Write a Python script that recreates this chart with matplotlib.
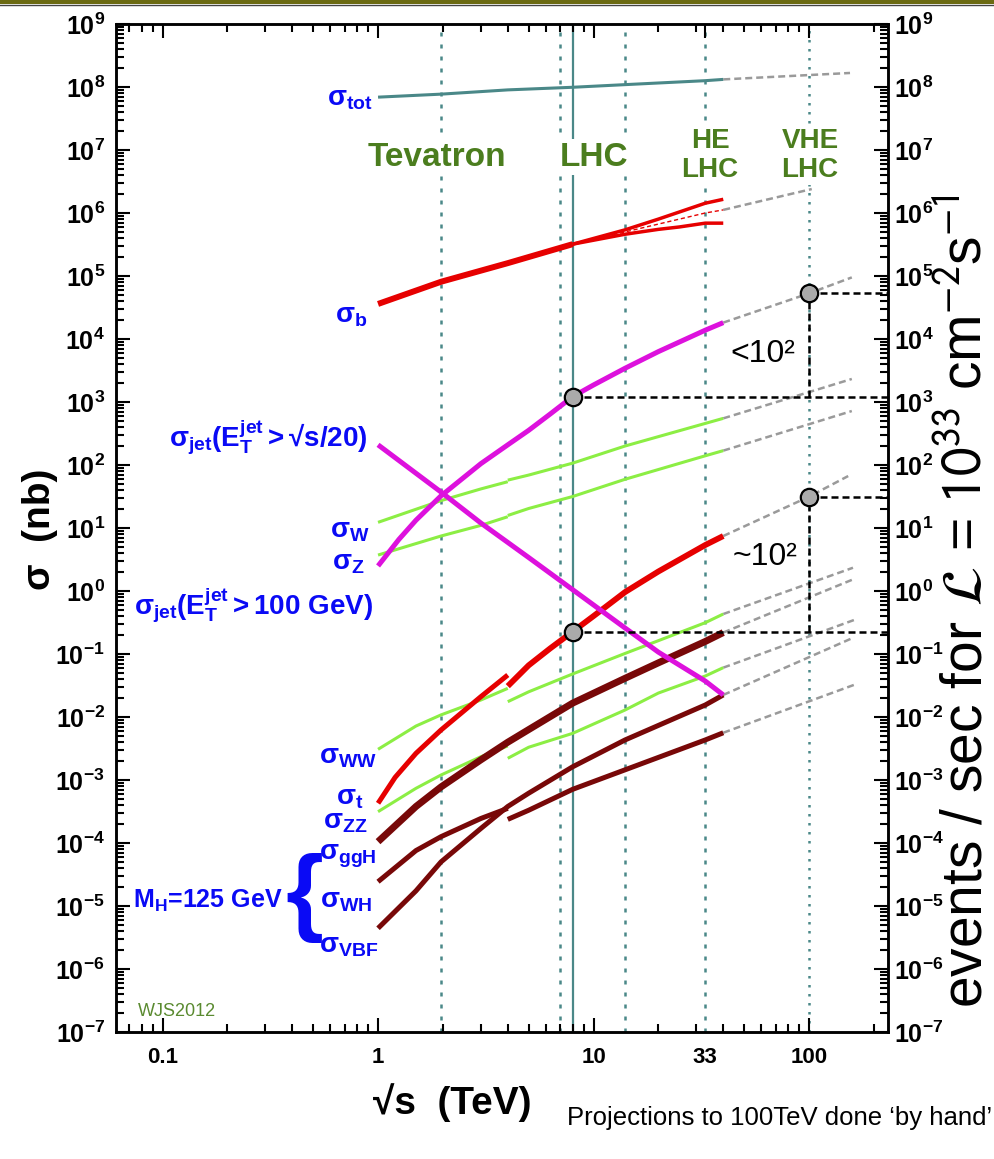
import matplotlib.pyplot as plt
from matplotlib.patches import Rectangle
from matplotlib.ticker import LogLocator, NullFormatter

plt.rcParams['font.family'] = ['Liberation Sans', 'DejaVu Sans']
plt.rcParams['mathtext.fontset'] = 'custom'
plt.rcParams['mathtext.rm'] = 'Liberation Sans'
plt.rcParams['mathtext.it'] = 'Liberation Sans:italic'
plt.rcParams['mathtext.bf'] = 'Liberation Sans:bold'
plt.rcParams['mathtext.fallback'] = 'stixsans'

# sqrt(s) in TeV, cross sections in nb
tot_s = [1, 1.96, 4, 8, 14, 33, 40]
tot_sig = [6.9e7, 7.7e7, 9.0e7, 9.9e7, 1.09e8, 1.26e8, 1.32e8]

b_s = [1, 1.96, 4, 8]
b_sig = [3.6e4, 8.1e4, 1.6e5, 3.2e5]
b_hi_s = [8, 14, 20, 33, 40]
b_hi_sig = [3.2e5, 5.4e5, 8.0e5, 1.43e6, 1.65e6]
b_lo_s = [8, 14, 20, 25, 33, 40]
b_lo_sig = [3.2e5, 4.6e5, 5.5e5, 6.0e5, 6.9e5, 6.9e5]
b_mid_s = [8, 14, 33, 40]
b_mid_sig = [3.2e5, 5.0e5, 1.0e6, 1.12e6]

jet20_s = [1, 1.25, 1.5, 1.96, 3, 4, 5, 6.3, 8, 10, 14, 20, 33, 40]
jet20_sig = [2.5, 6.6, 13.3, 32.4, 105, 209, 355, 646, 1216, 1862, 3430, 6310, 1.38e4, 1.82e4]
jet100_s = [1, 1.96, 3, 4, 5, 8, 14, 20, 33, 40]
jet100_sig = [209, 37.2, 12.0, 5.9, 3.4, 1.05, 0.259, 0.107, 0.0372, 0.0224]

w_tev_s = [1, 1.96, 3, 4]
w_tev_sig = [12.3, 27.2, 41.7, 54.3]
w_lhc_s = [4, 5, 8, 14, 33, 40]
w_lhc_sig = [57.5, 69.2, 107, 200, 457, 550]
z_tev_s = [1, 1.96, 3, 4]
z_tev_sig = [3.72, 7.46, 11.0, 15.1]
z_lhc_s = [4, 5, 8, 14, 33, 40]
z_lhc_sig = [15.8, 20.4, 31.6, 59.3, 140, 169]

t_tev_s = [1, 1.2, 1.5, 1.96, 3, 4]
t_tev_sig = [4.27e-4, 1.10e-3, 2.65e-3, 6.22e-3, 0.0210, 0.0464]
t_lhc_s = [4, 5, 6.3, 8, 10, 14, 20, 33, 40]
t_lhc_sig = [0.0309, 0.0661, 0.123, 0.226, 0.40, 0.96, 2.04, 5.37, 7.46]

ww_tev_s = [1, 1.5, 1.96, 3, 4]
ww_tev_sig = [3.07e-3, 7.19e-3, 0.0108, 0.0186, 0.0285]
ww_lhc_s = [4, 5, 8, 14, 33, 40]
ww_lhc_sig = [0.0175, 0.0251, 0.0482, 0.102, 0.314, 0.431]
zz_tev_s = [1, 1.5, 1.96, 3, 4]
zz_tev_sig = [3.14e-4, 7.38e-4, 1.20e-3, 2.34e-3, 3.47e-3]
zz_lhc_s = [4, 5, 8, 14, 20, 33, 40]
zz_lhc_sig = [2.21e-3, 3.31e-3, 5.50e-3, 0.0129, 0.024, 0.0447, 0.0607]

ggh_s = [1, 1.5, 1.96, 3, 4, 5, 8, 14, 20, 33, 40]
ggh_sig = [1.05e-4, 3.80e-4, 7.76e-4, 2.09e-3, 3.98e-3, 6.31e-3, 0.0166, 0.0411, 0.0724, 0.158, 0.219]
wh_tev_s = [1, 1.5, 1.96, 3, 4]
wh_tev_sig = [2.43e-5, 7.59e-5, 1.26e-4, 2.45e-4, 3.55e-4]
wh_lhc_s = [4, 5, 8, 14, 33, 40]
wh_lhc_sig = [2.37e-4, 3.31e-4, 7.11e-4, 1.45e-3, 4.32e-3, 5.62e-3]
vbf_s = [1, 1.5, 1.96, 3, 4, 5, 8, 14, 33, 40]
vbf_sig = [4.43e-6, 1.74e-5, 5.01e-5, 1.70e-4, 3.80e-4, 6.17e-4, 1.62e-3, 4.32e-3, 0.0155, 0.0224]

# hand-drawn projections beyond 40 TeV
proj = [
    ([40, 155], [1.32e8, 1.67e8]),
    ([40, 103], [1.12e6, 2.4e6]),
    ([40, 100, 158], [1.82e4, 5.3e4, 9.5e4]),
    ([40, 158], [550, 2320]),
    ([40, 158], [169, 719]),
    ([40, 100, 152], [7.46, 31.4, 66.8]),
    ([40, 160], [0.431, 2.34]),
    ([40, 158], [0.219, 1.5]),
    ([40, 162], [0.0607, 0.347]),
    ([40, 162], [0.0224, 0.184]),
    ([40, 166], [5.62e-3, 0.0334]),
]

circ_s = [8, 100, 8, 100]
circ_sig = [1216, 5.3e4, 0.226, 31.4]

dotted_s = [1.96, 7, 14, 33]
solid_s = 8
vhe_s = 100

xtick_vals = [0.1, 1, 10, 33, 100]
xtick_labels = ['0.1', '1', '10', '33', '100']
ytick_exp = list(range(-7, 10))

teal = '#4a8888'
red = '#e60000'
magenta = '#dd11dd'
green = '#8cee44'
brown = '#780808'
blue = '#0a0af5'
olive = '#4b7d1e'

fig = plt.figure(figsize=(9.95, 11.59), dpi=100)
ax = fig.add_axes([116 / 995, 1 - 1032 / 1159, 772 / 995, 1008 / 1159])
ax.set_xscale('log')
ax.set_yscale('log')
ax.set_xlim(0.0608, 232.6)
ax.set_ylim(1e-7, 1e9)

# collider energies
for s in dotted_s:
    ax.axvline(s, color=teal, lw=1.8, ls=(0, (1.6, 3.2)), zorder=1)
ax.axvline(solid_s, color=teal, lw=1.6, zorder=1)
ax.axvline(vhe_s, color=teal, lw=1.8, ls=(0, (1.0, 2.6)), zorder=1)

# curves
ax.plot(tot_s, tot_sig, color=teal, lw=2.2, solid_capstyle='butt', zorder=3)
ax.plot(b_s, b_sig, color=red, lw=4.3, solid_capstyle='butt', zorder=3)
ax.plot(b_hi_s, b_hi_sig, color=red, lw=2.5, solid_capstyle='butt', zorder=3)
ax.plot(b_lo_s, b_lo_sig, color=red, lw=2.5, solid_capstyle='butt', zorder=3)
ax.plot(b_mid_s, b_mid_sig, color=red, lw=1.0, ls=(0, (3, 2)), zorder=3)

ax.plot(w_tev_s, w_tev_sig, color=green, lw=2.2, solid_capstyle='butt', zorder=3)
ax.plot(w_lhc_s, w_lhc_sig, color=green, lw=2.2, solid_capstyle='butt', zorder=3)
ax.plot(z_tev_s, z_tev_sig, color=green, lw=2.2, solid_capstyle='butt', zorder=3)
ax.plot(z_lhc_s, z_lhc_sig, color=green, lw=2.2, solid_capstyle='butt', zorder=3)
ax.plot(ww_tev_s, ww_tev_sig, color=green, lw=2.2, solid_capstyle='butt', zorder=3)
ax.plot(ww_lhc_s, ww_lhc_sig, color=green, lw=2.2, solid_capstyle='butt', zorder=3)
ax.plot(zz_tev_s, zz_tev_sig, color=green, lw=2.2, solid_capstyle='butt', zorder=3)
ax.plot(zz_lhc_s, zz_lhc_sig, color=green, lw=2.2, solid_capstyle='butt', zorder=3)

ax.plot(ggh_s, ggh_sig, color=brown, lw=5, solid_capstyle='butt', zorder=3)
ax.plot(wh_tev_s, wh_tev_sig, color=brown, lw=3.6, solid_capstyle='butt', zorder=3)
ax.plot(wh_lhc_s, wh_lhc_sig, color=brown, lw=3.6, solid_capstyle='butt', zorder=3)
ax.plot(vbf_s, vbf_sig, color=brown, lw=3.6, solid_capstyle='butt', zorder=3)

ax.plot(t_tev_s, t_tev_sig, color=red, lw=3.6, solid_capstyle='butt', zorder=4)
ax.plot(t_lhc_s, t_lhc_sig, color=red, lw=4.2, solid_capstyle='butt', zorder=4)

ax.plot(jet20_s, jet20_sig, color=magenta, lw=3.6, solid_capstyle='butt', zorder=4)
ax.plot(jet100_s, jet100_sig, color=magenta, lw=3.6, solid_capstyle='butt', zorder=4)

for ps, psig in proj:
    ax.plot(ps, psig, color='#9a9a9a', lw=1.8, ls=(0, (2.8, 1.6)), zorder=2)

# rate comparison guides
xr = ax.get_xlim()[1]
for i in (0, 2):
    lo, hi = circ_sig[i], circ_sig[i + 1]
    ax.plot([circ_s[i], xr], [lo, lo], color='black', lw=1.8, ls=(0, (2.8, 1.6)), zorder=5, clip_on=False)
    ax.plot([circ_s[i + 1], circ_s[i + 1]], [lo, hi], color='black', lw=1.8, ls=(0, (2.8, 1.6)), zorder=5)
    ax.plot([circ_s[i + 1], xr], [hi, hi], color='black', lw=1.8, ls=(0, (2.8, 1.6)), zorder=5, clip_on=False)
ax.plot(circ_s, circ_sig, 'o', ms=12.5, mfc='#aaaaaa', mec='black', mew=1.6, zorder=6)

ax.text(61, 5780, '<10²', fontsize=23, ha='center', va='center', zorder=7)
ax.text(62.5, 3.5, '~10²', fontsize=23, ha='center', va='center', zorder=7)

# collider labels
bb = dict(fc='white', ec='none', pad=2)
ax.text(1.88, 7.7e6, 'Tevatron', color=olive, fontsize=24, fontweight='bold', ha='center', va='center', bbox=bb, zorder=2)
ax.text(10.05, 7.7e6, 'LHC', color=olive, fontsize=24, fontweight='bold', ha='center', va='center', bbox=bb, zorder=2)
ax.text(34.7, 8.3e6, 'HE\nLHC', color=olive, fontsize=20, fontweight='bold', ha='center', va='center', linespacing=1.15, bbox=bb, zorder=2)
ax.text(101, 8.3e6, 'VHE\nLHC', color=olive, fontsize=20, fontweight='bold', ha='center', va='center', linespacing=1.15, bbox=bb, zorder=2)

# process labels
labels = [
    (0.948, 6.4e7, r'$\mathbf{σ_{tot}}$'),
    (0.889, 2.3e4, r'$\mathbf{σ_{b}}$'),
    (0.899, 274, r'$\mathbf{σ_{jet}(E_{T}^{jet}>√s/20)}$'),
    (0.918, 9.1, r'$\mathbf{σ_{W}}$'),
    (0.87, 2.74, r'$\mathbf{σ_{Z}}$'),
    (0.948, 0.6, r'$\mathbf{σ_{jet}(E_{T}^{jet}>100\ GeV)}$'),
    (0.99, 2.36e-3, r'$\mathbf{σ_{WW}}$'),
    (0.852, 5.27e-4, r'$\mathbf{σ_{t}}$'),
    (0.889, 2.19e-4, r'$\mathbf{σ_{ZZ}}$'),
    (0.99, 6.1e-5, r'$\mathbf{σ_{ggH}}$'),
    (0.938, 1.22e-5, r'$\mathbf{σ_{WH}}$'),
    (1.0, 2.36e-6, r'$\mathbf{σ_{VBF}}$'),
]
for lx, ly, txt in labels:
    ax.text(lx, ly, txt, color=blue, fontsize=20, ha='right', va='center', zorder=7)
ax.text(0.362, 1.2e-5, r'M$_{\mathbf{H}}$=125 GeV', color=blue, fontsize=18, fontweight='bold',
        ha='right', va='center', zorder=7)
ax.text(0.454, 1.34e-5, '{', color=blue, fontsize=70, fontweight='bold', ha='center', va='center', zorder=7)
ax.text(0.0769, 2.15e-7, 'WJS2012', color='#5a8a30', fontsize=13, ha='left', va='center')

# axes styling
ylabels = [r'$\mathbf{10^{%d}}$' % e for e in ytick_exp]
ax.set_xticks(xtick_vals)
ax.set_xticklabels(xtick_labels, fontsize=16, fontweight='bold')
ax.xaxis.set_minor_locator(LogLocator(base=10, subs=range(2, 10), numticks=20))
ax.xaxis.set_minor_formatter(NullFormatter())
for t in ax.xaxis.get_major_ticks()[3:4]:
    t.tick1line.set_visible(False)
    t.tick2line.set_visible(False)
ax.set_yticks([10.0 ** e for e in ytick_exp])
ax.set_yticklabels(ylabels, fontsize=18)
ax.yaxis.set_minor_locator(LogLocator(base=10, subs=range(2, 10), numticks=40))
ax.yaxis.set_minor_formatter(NullFormatter())
ax.tick_params(which='both', direction='in', top=True, width=1.5)
ax.tick_params(which='major', length=10)
ax.tick_params(which='minor', length=5.5)
ax.tick_params(axis='x', pad=11)
ax.tick_params(axis='y', which='major', pad=8)
for sp in ax.spines.values():
    sp.set_linewidth(1.8)

# right-hand scale (events/sec equals sigma in nb for L = 1e33)
ax2 = ax.twinx()
ax2.set_yscale('log')
ax2.set_ylim(1e-7, 1e9)
ax2.set_yticks([10.0 ** e for e in ytick_exp])
ax2.set_yticklabels(ylabels, fontsize=18)
ax2.yaxis.set_minor_locator(LogLocator(base=10, subs=range(2, 10), numticks=40))
ax2.yaxis.set_minor_formatter(NullFormatter())
ax2.tick_params(which='both', direction='in', width=1.5)
ax2.tick_params(which='major', length=10, pad=4)
ax2.tick_params(which='minor', length=5.5)
for sp in ax2.spines.values():
    sp.set_linewidth(1.8)

fig.text(0.040, 0.543, 'σ  (nb)', rotation=90, fontsize=28, fontweight='bold', ha='center', va='center')
fig.text(0.455, 0.049, '√s  (TeV)', fontsize=28, fontweight='bold', ha='center', va='center')

# right-hand label in two pieces so that the lower part stays clear of the tick labels
rx = 982 / 995
lab_a = fig.text(rx, 1 - 1008 / 1159, r'events / sec for $\mathcal{L}$ =', rotation=90, rotation_mode='anchor',
                 ha='left', va='baseline', fontsize=41, math_fontfamily='stixsans')
fig.canvas.draw()
top_a = lab_a.get_window_extent().y1 / fig.bbox.height
fig.text(rx, top_a + 14 / 1159, r'$10^{33}$ cm$^{-2}$s$^{-1}$', rotation=90, rotation_mode='anchor',
         ha='left', va='baseline', fontsize=41, math_fontfamily='stixsans')

fig.text(0.997, 0.0354, 'Projections to 100TeV done ‘by hand’', fontsize=18.5, ha='right', va='center')

# top frame bar
fig.patches.append(Rectangle((0, 1 - 4 / 1159), 1, 4 / 1159, transform=fig.transFigure, fc='#6b6a12', ec='none'))
fig.lines.append(plt.Line2D([0, 1], [1 - 4.5 / 1159] * 2, transform=fig.transFigure, color='#444444', lw=1))

fig.savefig('out.png', dpi=100)
